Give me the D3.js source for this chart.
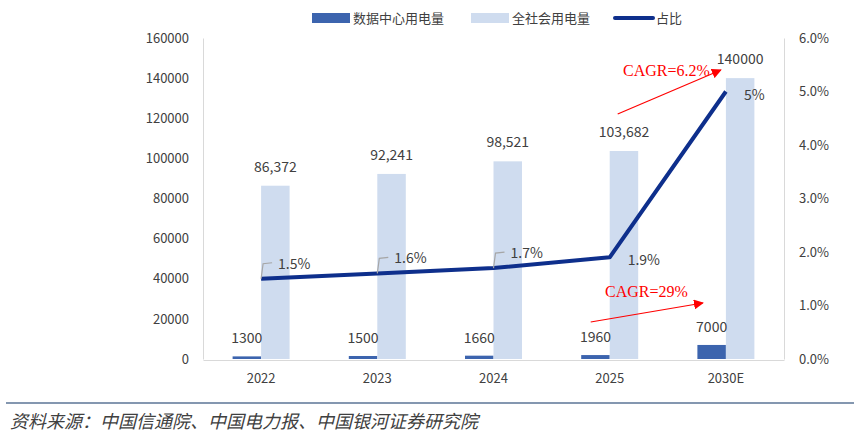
<!DOCTYPE html>
<html><head><meta charset="utf-8">
<script src="https://cdn.jsdelivr.net/npm/d3@7/dist/d3.min.js"></script>
<style>
body{margin:0;background:#fff;}
svg{display:block;font-family:"Noto Sans CJK SC","DejaVu Sans",sans-serif;}
</style></head>
<body><svg id="c" width="854" height="439"></svg>
<script>
const categories = ["2022","2023","2024","2025","2030E"];
const dcPower = [1300,1500,1660,1960,7000];
const dcLabels = ["1300","1500","1660","1960","7000"];
const totalPower = [86372,92241,98521,103682,140000];
const totalLabels = ["86,372","92,241","98,521","103,682","140000"];
const share = [1.5,1.6,1.7,1.9,5.0];
const shareLabels = ["1.5%","1.6%","1.7%","1.9%","5%"];
const leftTicks = [0,20000,40000,60000,80000,100000,120000,140000,160000];
const rightTicks = [0,1,2,3,4,5,6];
const legendNames = ["数据中心用电量","全社会用电量","占比"];
const source = "资料来源：中国信通院、中国电力报、中国银河证券研究院";

const svg = d3.select("#c");
const L = 203, R = 784, T = 38, B = 359;
const x = d3.scaleBand().domain(categories).range([L,R]);
const y = d3.scaleLinear().domain([0,160000]).range([B,T]);
const y2 = d3.scaleLinear().domain([0,6]).range([B,T]);
const bw = 28.5;
const txt = "#404040";
const ff = "'Noto Sans CJK SC','DejaVu Sans',sans-serif";

// axes
const ax = svg.append("g").attr("transform",`translate(${L},0)`)
  .call(d3.axisLeft(y).tickValues(leftTicks).tickSize(0).tickPadding(14).tickFormat(d3.format("d")));
const ax2 = svg.append("g").attr("transform",`translate(${R},0)`)
  .call(d3.axisRight(y2).tickValues(rightTicks).tickSize(0).tickPadding(15).tickFormat(d=>d.toFixed(1)+"%"));
const axb = svg.append("g").attr("transform",`translate(0,${B+1})`)
  .call(d3.axisBottom(x).tickSize(0).tickPadding(14));
[ax,ax2,axb].forEach(g=>{
  g.attr("font-family",ff).attr("font-size",13);
  g.select(".domain").attr("stroke","#d9d9d9");
  g.selectAll("text").attr("fill",txt);
});

// bars
const cx = c => x(c)+x.bandwidth()/2;
svg.selectAll(".dc").data(categories).join("rect")
  .attr("x",c=>cx(c)-bw).attr("width",bw)
  .attr("y",(c,i)=>y(dcPower[i])).attr("height",(c,i)=>B-y(dcPower[i]))
  .attr("fill","#3c64ae");
svg.selectAll(".tp").data(categories).join("rect")
  .attr("x",c=>cx(c)).attr("width",bw)
  .attr("y",(c,i)=>y(totalPower[i])).attr("height",(c,i)=>B-y(totalPower[i]))
  .attr("fill","#cfdcef");

// bar labels
svg.selectAll(".dcl").data(categories).join("text")
  .attr("x",c=>cx(c)-bw/2).attr("y",(c,i)=>y(dcPower[i])-13)
  .attr("text-anchor","middle").attr("font-size",14).attr("fill",txt)
  .text((c,i)=>dcLabels[i]);
svg.selectAll(".tpl").data(categories).join("text")
  .attr("x",c=>cx(c)+bw/2).attr("y",(c,i)=>y(totalPower[i])-14)
  .attr("text-anchor","middle").attr("font-size",14).attr("fill",txt)
  .text((c,i)=>totalLabels[i]);

// line
const line = d3.line().x((d,i)=>cx(categories[i])).y(d=>y2(d));
svg.append("path").datum(share).attr("d",line).attr("fill","none")
  .attr("stroke","#0e2f8c").attr("stroke-width",4).attr("stroke-linejoin","round");

// share labels with leaders for first three
share.forEach((v,i)=>{
  const px = cx(categories[i]), py = y2(v);
  if(i<3){
    svg.append("path").attr("d",`M${px},${py} L${px+2},${py-15} L${px+11},${py-16}`)
      .attr("fill","none").attr("stroke","#a6a6a6").attr("stroke-width",1.2);
    svg.append("text").attr("x",px+17).attr("y",py-10).attr("font-size",14).attr("fill",txt).text(shareLabels[i]);
  } else {
    svg.append("text").attr("x",px+18).attr("y",py+8).attr("font-size",14).attr("fill",txt).text(shareLabels[i]);
  }
});

// CAGR annotations
const defs = svg.append("defs");
defs.append("marker").attr("id","ah").attr("viewBox","0 0 10 10").attr("refX",9).attr("refY",5)
  .attr("markerWidth",10).attr("markerHeight",10).attr("markerUnits","userSpaceOnUse").attr("orient","auto")
  .append("path").attr("d","M0,0 L10,5 L0,10 z").attr("fill","#ff0000");
function arrow(x1,y1,x2,y2){
  svg.append("line").attr("x1",x1).attr("y1",y1).attr("x2",x2).attr("y2",y2)
    .attr("stroke","#ff0000").attr("stroke-width",1.2).attr("marker-end","url(#ah)");
}
arrow(cx("2025")+8,114, cx("2030E")-5,70);
svg.append("text").attr("x",623).attr("y",76).attr("font-family","'Liberation Serif',serif")
  .attr("font-size",16).attr("fill","#ff0000").text("CAGR=6.2%");
arrow(cx("2025")-19,322, cx("2030E")-23,303);
svg.append("text").attr("x",605).attr("y",297).attr("font-family","'Liberation Serif',serif")
  .attr("font-size",16).attr("fill","#ff0000").text("CAGR=29%");

// legend
const lg = svg.append("g");
lg.append("rect").attr("x",312).attr("y",13).attr("width",38).attr("height",10).attr("fill","#3c64ae");
lg.append("text").attr("x",353).attr("y",22.5).attr("font-size",13).attr("fill",txt).text(legendNames[0]);
lg.append("rect").attr("x",471).attr("y",13).attr("width",38).attr("height",10).attr("fill","#cfdcef");
lg.append("text").attr("x",512).attr("y",22.5).attr("font-size",13).attr("fill",txt).text(legendNames[1]);
lg.append("line").attr("x1",615).attr("x2",653).attr("y1",18).attr("y2",18).attr("stroke","#0e2f8c").attr("stroke-width",4).attr("stroke-linecap","round");
lg.append("text").attr("x",656).attr("y",22.5).attr("font-size",13).attr("fill",txt).text(legendNames[2]);

// bottom rule & source
svg.append("line").attr("x1",6).attr("x2",854).attr("y1",403).attr("y2",403).attr("stroke","#8497b0").attr("stroke-width",2);
svg.append("text").attr("x",10).attr("y",428).attr("font-size",18).attr("font-style","italic")
  .attr("fill","#404040").text(source);
</script></body></html>
